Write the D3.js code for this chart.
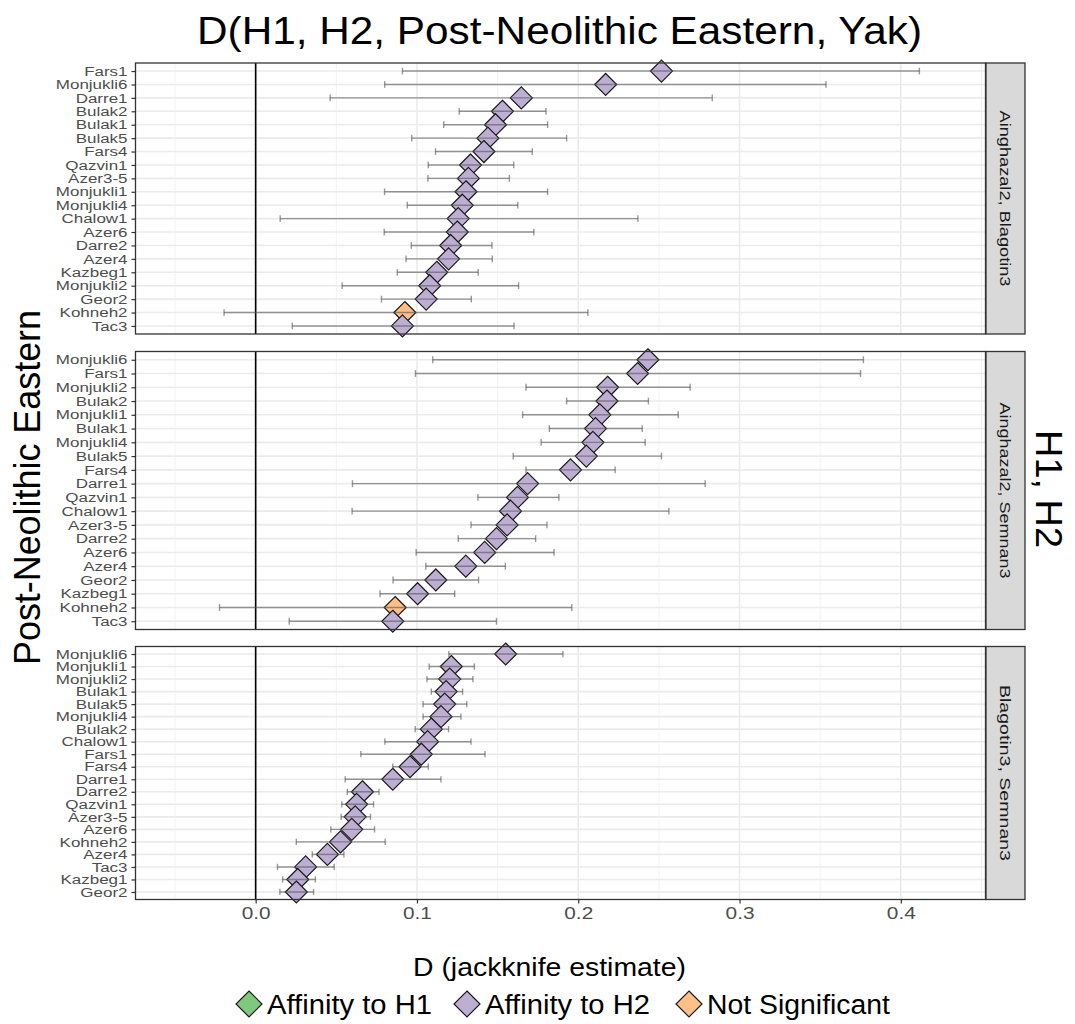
<!DOCTYPE html>
<html><head><meta charset="utf-8">
<script src="https://cdn.jsdelivr.net/npm/d3@7"></script>
<style>body{margin:0;background:#fff;}svg{display:block;font-family:"Liberation Sans",Arial,sans-serif;}</style>
</head><body><svg id="c" width="1075" height="1024"></svg>
<script>
// ---------- DATA ----------
const panelLabels = ["Ainghazal2, Blagotin3", "Ainghazal2, Semnan3", "Blagotin3, Semnan3"];
const sigLevels = ["Affinity to H1", "Affinity to H2", "Not Significant"];
const xTicks = [0.0, 0.1, 0.2, 0.3, 0.4];

const p1Names = ["Fars1","Monjukli6","Darre1","Bulak2","Bulak1","Bulak5","Fars4","Qazvin1","Azer3-5","Monjukli1","Monjukli4","Chalow1","Azer6","Darre2","Azer4","Kazbeg1","Monjukli2","Geor2","Kohneh2","Tac3"];
const p1D     = [0.2516,0.217,0.1647,0.153,0.1487,0.144,0.1415,0.1332,0.1319,0.1304,0.1281,0.1256,0.125,0.1209,0.1196,0.1123,0.1079,0.1057,0.0925,0.091];
const p1Lo    = [0.091,0.080,0.0462,0.1262,0.1166,0.0968,0.1115,0.107,0.1068,0.0799,0.094,0.0152,0.0797,0.0965,0.0932,0.0878,0.0536,0.078,-0.0196,0.0227];
const p1Hi    = [0.4115,0.3536,0.2831,0.18,0.181,0.1928,0.1715,0.16,0.1573,0.181,0.1625,0.237,0.1725,0.1465,0.1467,0.138,0.163,0.1337,0.206,0.1602];
const p1Sig   = ["Affinity to H2","Affinity to H2","Affinity to H2","Affinity to H2","Affinity to H2","Affinity to H2","Affinity to H2","Affinity to H2","Affinity to H2","Affinity to H2","Affinity to H2","Affinity to H2","Affinity to H2","Affinity to H2","Affinity to H2","Affinity to H2","Affinity to H2","Affinity to H2","Not Significant","Affinity to H2"];

const p2Names = ["Monjukli6","Fars1","Monjukli2","Bulak2","Monjukli1","Bulak1","Monjukli4","Bulak5","Fars4","Darre1","Qazvin1","Chalow1","Azer3-5","Darre2","Azer6","Azer4","Geor2","Kazbeg1","Kohneh2","Tac3"];
const p2D     = [0.2432,0.2368,0.2182,0.2178,0.2134,0.2107,0.2091,0.205,0.1952,0.1686,0.1623,0.158,0.1559,0.1493,0.142,0.1303,0.1117,0.1004,0.0865,0.085];
const p2Lo    = [0.1098,0.0991,0.1676,0.1928,0.1655,0.1821,0.177,0.1597,0.1676,0.060,0.1378,0.0598,0.1335,0.1256,0.0995,0.1055,0.0852,0.0771,-0.0224,0.0208];
const p2Hi    = [0.3768,0.375,0.2694,0.2435,0.262,0.2397,0.2415,0.2516,0.2229,0.2787,0.188,0.2562,0.1806,0.1736,0.185,0.1548,0.1382,0.1234,0.196,0.1493];
const p2Sig   = ["Affinity to H2","Affinity to H2","Affinity to H2","Affinity to H2","Affinity to H2","Affinity to H2","Affinity to H2","Affinity to H2","Affinity to H2","Affinity to H2","Affinity to H2","Affinity to H2","Affinity to H2","Affinity to H2","Affinity to H2","Affinity to H2","Affinity to H2","Affinity to H2","Not Significant","Affinity to H2"];

const p3Names = ["Monjukli6","Monjukli1","Monjukli2","Bulak1","Bulak5","Monjukli4","Bulak2","Chalow1","Fars1","Fars4","Darre1","Darre2","Qazvin1","Azer3-5","Azer6","Kohneh2","Azer4","Tac3","Kazbeg1","Geor2"];
const p3D     = [0.155,0.1213,0.1203,0.1181,0.1172,0.1149,0.1089,0.1066,0.1027,0.0957,0.085,0.0662,0.0626,0.0617,0.0596,0.0526,0.0445,0.031,0.0261,0.0252];
const p3Lo    = [0.1198,0.1076,0.1062,0.1089,0.1038,0.1038,0.0989,0.0801,0.0652,0.085,0.0555,0.0568,0.0534,0.053,0.0466,0.0252,0.0351,0.0135,0.0167,0.015];
const p3Hi    = [0.1905,0.1356,0.1347,0.1283,0.1309,0.1273,0.1196,0.1335,0.1422,0.107,0.1149,0.0765,0.0731,0.0712,0.0737,0.0803,0.0547,0.0487,0.037,0.0359];
const p3Sig   = Array.from(p3Names, () => "Affinity to H2");

// ---------- LAYOUT ----------
const svg = d3.select("#c");
const X0 = 135.5, X1 = 985.5;
const panelY = [[63, 334], [351.5, 629.5], [646.5, 899.5]];
const x = d3.scaleLinear().domain([-0.0745, 0.4525]).range([X0, X1]);
const color = d3.scaleOrdinal().domain(sigLevels).range(["#7FC97F", "#BEAED4", "#FDC086"]);
const SXY = 1.38, SX = 1.3;

const panels = [
  {names: p1Names, d: p1D, lo: p1Lo, hi: p1Hi, sig: p1Sig},
  {names: p2Names, d: p2D, lo: p2Lo, hi: p2Hi, sig: p2Sig},
  {names: p3Names, d: p3D, lo: p3Lo, hi: p3Hi, sig: p3Sig}
];

const diamond = (cx, cy, r) => `M${cx},${cy - r}L${cx + r},${cy}L${cx},${cy + r}L${cx - r},${cy}Z`;

panels.forEach((p, i) => {
  const [top, bot] = panelY[i];
  const y = d3.scalePoint().domain(p.names).range([top, bot]).padding(0.6);
  const step = y.step();
  const g = svg.append("g");
  g.append("rect").attr("x", X0).attr("y", top).attr("width", X1 - X0).attr("height", bot - top).attr("fill", "#fff");
  const minor = [-0.05, 0.05, 0.15, 0.25, 0.35, 0.45];
  g.selectAll(".vmin").data(minor).join("line")
    .attr("x1", d => x(d)).attr("x2", d => x(d)).attr("y1", top).attr("y2", bot)
    .attr("stroke", "#F2F2F2").attr("stroke-width", 1);
  g.selectAll(".vmaj").data(xTicks).join("line")
    .attr("x1", d => x(d)).attr("x2", d => x(d)).attr("y1", top).attr("y2", bot)
    .attr("stroke", "#EBEBEB").attr("stroke-width", 1.6);
  g.selectAll(".hmaj").data(p.names).join("line")
    .attr("x1", X0).attr("x2", X1).attr("y1", d => y(d)).attr("y2", d => y(d))
    .attr("stroke", "#EBEBEB").attr("stroke-width", 1.6);
  g.append("line").attr("x1", x(0)).attr("x2", x(0)).attr("y1", top).attr("y2", bot)
    .attr("stroke", "#000").attr("stroke-width", 1.6);
  const idx = d3.range(p.names.length);
  g.selectAll(".pt").data(idx).join("path")
    .attr("d", k => diamond(x(p.d[k]), y(p.names[k]), 11))
    .attr("fill", k => color(p.sig[k])).attr("stroke", "#1a1a1a").attr("stroke-width", 1.2);
  const eb = g.selectAll(".eb").data(idx).join("g").attr("stroke", "#555").attr("stroke-opacity", 0.6).attr("stroke-width", 1.4);
  eb.append("line").attr("x1", k => x(p.lo[k])).attr("x2", k => x(p.hi[k])).attr("y1", k => y(p.names[k])).attr("y2", k => y(p.names[k]));
  eb.append("line").attr("x1", k => x(p.lo[k])).attr("x2", k => x(p.lo[k])).attr("y1", k => y(p.names[k]) - step * 0.25).attr("y2", k => y(p.names[k]) + step * 0.25);
  eb.append("line").attr("x1", k => x(p.hi[k])).attr("x2", k => x(p.hi[k])).attr("y1", k => y(p.names[k]) - step * 0.25).attr("y2", k => y(p.names[k]) + step * 0.25);
  g.append("rect").attr("x", X0).attr("y", top).attr("width", X1 - X0).attr("height", bot - top)
    .attr("fill", "none").attr("stroke", "#333").attr("stroke-width", 1.3);
  const ya = g.append("g").attr("transform", `translate(${X0},0)`).call(d3.axisLeft(y).tickSize(4).tickPadding(3));
  ya.select(".domain").remove();
  ya.selectAll(".tick line").attr("stroke", "#333").attr("stroke-width", 1.2);
  ya.selectAll(".tick text").attr("fill", "#4D4D4D").attr("font-size", 12.3)
    .attr("font-family", "Liberation Sans, Arial, sans-serif")
    .attr("x", -8 / SXY).attr("dy", "0.34em").attr("transform", `scale(${SXY},1)`);
  g.append("rect").attr("x", 986).attr("y", top).attr("width", 39).attr("height", bot - top)
    .attr("fill", "#D9D9D9").attr("stroke", "#333").attr("stroke-width", 1.3);
  g.append("text").attr("transform", `translate(${1005.5},${(top + bot) / 2}) rotate(90)`)
    .attr("text-anchor", "middle").attr("dominant-baseline", "central")
    .attr("font-size", 15.5).attr("fill", "#1A1A1A")
    .attr("textLength", 176).attr("lengthAdjust", "spacingAndGlyphs").text(panelLabels[i]);
});

const xa = svg.append("g").attr("transform", `translate(0,${panelY[2][1]})`)
  .call(d3.axisBottom(x).tickValues(xTicks).tickFormat(d3.format(".1f")).tickSize(4).tickPadding(4));
xa.select(".domain").remove();
xa.selectAll(".tick line").attr("stroke", "#333").attr("stroke-width", 1.2);
xa.selectAll(".tick text").attr("fill", "#4D4D4D").attr("font-size", 16)
  .attr("font-family", "Liberation Sans, Arial, sans-serif")
  .attr("transform", `scale(${SX},1)`);

svg.append("text").attr("x", 559.5).attr("y", 44).attr("text-anchor", "middle").attr("font-size", 38).attr("fill", "#000")
  .attr("textLength", 725).attr("lengthAdjust", "spacingAndGlyphs")
  .text("D(H1, H2, Post-Neolithic Eastern, Yak)");
svg.append("text").attr("x", 549.5).attr("y", 976).attr("text-anchor", "middle").attr("font-size", 26).attr("fill", "#000")
  .attr("textLength", 273).attr("lengthAdjust", "spacingAndGlyphs")
  .text("D (jackknife estimate)");
svg.append("text").attr("transform", `translate(40,${487.5}) rotate(-90)`).attr("text-anchor", "middle")
  .attr("font-size", 36).attr("fill", "#000")
  .attr("textLength", 355).attr("lengthAdjust", "spacingAndGlyphs").text("Post-Neolithic Eastern");
svg.append("text").attr("transform", `translate(1036,${489}) rotate(90)`).attr("text-anchor", "middle")
  .attr("font-size", 36).attr("fill", "#000")
  .attr("textLength", 118).attr("lengthAdjust", "spacingAndGlyphs").text("H1, H2");

const legX = [249, 467, 689];
const legW = [165, 165, 183];
const lg = svg.append("g");
sigLevels.forEach((s, k) => {
  lg.append("path").attr("d", diamond(legX[k], 1004, 13)).attr("fill", color(s)).attr("stroke", "#1a1a1a").attr("stroke-width", 1.2);
  lg.append("text").attr("x", legX[k] + 18).attr("y", 1014).attr("font-size", 27).attr("fill", "#000")
    .attr("textLength", legW[k]).attr("lengthAdjust", "spacingAndGlyphs").text(s);
});
</script></body></html>
